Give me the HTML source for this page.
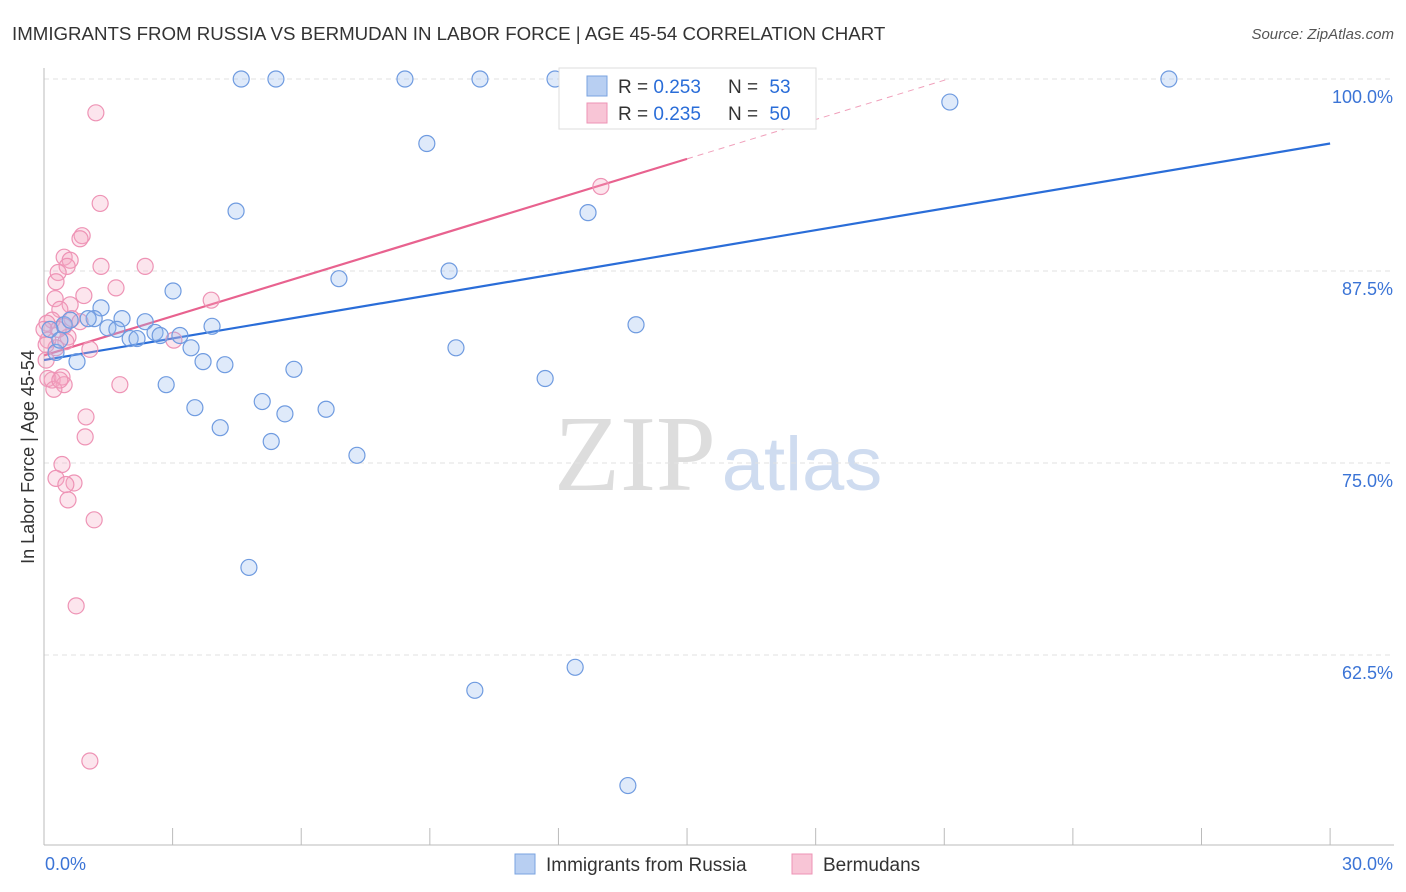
<!DOCTYPE html>
<html><head><meta charset="utf-8"><style>
body{margin:0;background:#fff;font-family:"Liberation Sans",sans-serif;}
svg{display:block}
</style></head><body>
<svg id="chart" width="1406" height="892">
<text x="12" y="40" font-size="18.7" fill="#333">IMMIGRANTS FROM RUSSIA VS BERMUDAN IN LABOR FORCE | AGE 45-54 CORRELATION CHART</text>
<text x="1394" y="39" font-size="15" fill="#555" font-style="italic" text-anchor="end">Source: ZipAtlas.com</text>
<text transform="translate(34,457) rotate(-90)" font-size="18" fill="#333" text-anchor="middle">In Labor Force | Age 45-54</text>
<g><text x="635" y="490" font-size="108" font-family="Liberation Serif,serif" fill="#ddd" text-anchor="middle">ZIP</text><text x="802" y="490" font-size="76" fill="#cfdcf0" text-anchor="middle">atlas</text></g>
<g id="grid"></g><g id="axes"></g><g id="lines"></g><g id="pts"></g>
<g>
<rect x="559" y="68" width="257" height="61" fill="#fff" stroke="#ddd"/>
<rect x="587" y="76" width="20" height="20" fill="#b8cff2" stroke="#7aa3e0"/>
<text x="618" y="93" font-size="19" fill="#333">R = <tspan fill="#2a6dd8">0.253</tspan></text>
<text x="728" y="93" font-size="19" fill="#333">N = <tspan fill="#2a6dd8" dx="6">53</tspan></text>
<rect x="587" y="103" width="20" height="20" fill="#f8c5d6" stroke="#ee93b5"/>
<text x="618" y="120" font-size="19" fill="#333">R = <tspan fill="#2a6dd8">0.235</tspan></text>
<text x="728" y="120" font-size="19" fill="#333">N = <tspan fill="#2a6dd8" dx="6">50</tspan></text>
</g>
<g>
<rect x="515" y="854" width="20" height="20" fill="#b8cff2" stroke="#7aa3e0"/>
<text x="546" y="871" font-size="19" fill="#333">Immigrants from Russia</text>
<rect x="792" y="854" width="20" height="20" fill="#f8c5d6" stroke="#ee93b5"/>
<text x="823" y="871" font-size="19" fill="#333">Bermudans</text>
</g>
</svg>
<script>
const yTicks=[100,87.5,75,62.5];
const yTickLabels=["100.0%","87.5%","75.0%","62.5%"];
const xTicks=[0,3,6,9,12,15,18,21,24,27,30];
const xLabels=["0.0%","30.0%"];
const blueX=[4.60,5.41,8.42,10.17,11.92,12.39,14.18,26.24,21.13,8.93,4.48,12.69,6.88,9.45,3.01,1.33,1.82,2.36,1.17,0.47,1.49,1.70,2.01,2.17,2.59,2.71,3.17,3.92,3.43,3.71,4.22,0.77,0.28,2.85,5.83,9.61,11.69,13.81,5.09,5.62,6.58,3.52,4.11,5.30,7.30,4.78,12.39,10.05,13.62,0.14,0.37,0.61,1.03];
const blueY=[100,100,100,100,100,100,100,100,98.5,95.8,91.4,91.3,87.0,87.5,86.2,85.1,84.4,84.2,84.4,84.0,83.8,83.7,83.1,83.1,83.5,83.3,83.3,83.9,82.5,81.6,81.4,81.6,82.2,80.1,81.1,82.5,80.5,84.0,79.0,78.2,78.5,78.6,77.3,76.4,75.5,68.2,61.7,60.2,54.0,83.7,83.0,84.3,84.4];
const pinkX=[1.21,1.31,0.89,0.84,0.47,0.61,0.54,1.33,2.36,0.33,0.28,1.68,3.90,0.93,0.26,0.61,0.37,0.19,0.07,0.65,0.47,0.56,0.51,0.09,0.28,1.07,3.03,12.99,0.19,0.09,0.42,0.47,0.23,1.77,0.98,0.96,0.42,0.28,0.70,0.51,0.56,1.17,0.75,1.07,0.05,0.33,0.84,0,0.05,0.37];
const pinkY=[97.8,91.9,89.8,89.6,88.4,88.2,87.8,87.8,87.8,87.4,86.8,86.4,85.6,85.9,85.7,85.3,85.0,84.3,84.1,84.4,83.9,83.2,82.9,83.0,82.5,82.4,83.0,93.0,80.4,80.5,80.6,80.1,79.8,80.1,78.0,76.7,74.9,74.0,73.7,73.6,72.6,71.3,65.7,55.6,82.7,83.7,84.2,83.7,81.7,80.4];
const blueFit=[81.7,95.8];
const pinkFit=[82.0,94.8];
const X=v=>44+v*42.87, Y=v=>79+(100-v)*15.36;
const NS="http://www.w3.org/2000/svg";
function mk(t,a,p){const e=document.createElementNS(NS,t);for(const k in a)e.setAttribute(k,a[k]);document.getElementById(p).appendChild(e);return e;}
yTicks.forEach((t,i)=>{
 const l=mk('line',{x1:44,x2:1394,y1:Y(t),y2:Y(t),stroke:'#e2e2e2','stroke-dasharray':'5,4'},'grid');
 
 
 const tx=mk('text',{x:1393,y:Y(t)+24,'font-size':18,fill:'#3b74d6','text-anchor':'end'},'grid');
 tx.textContent=yTickLabels[i];
 
 
});
let a=mk('line',{x1:44,x2:44,y1:68,y2:845,stroke:'#bbb'},'axes');


a=mk('line',{x1:44,x2:1394,y1:845,y2:845,stroke:'#bbb'},'axes');


xTicks.forEach(t=>{const l=mk('line',{x1:X(t),x2:X(t),y1:828,y2:845,stroke:'#bbb'},'axes');
 
 });
let t1=mk('text',{x:45,y:870,'font-size':18,fill:'#3b74d6'},'axes');t1.textContent=xLabels[0];


let t2=mk('text',{x:1393,y:870,'font-size':18,fill:'#3b74d6','text-anchor':'end'},'axes');t2.textContent=xLabels[1];


function dots(xs,ys,fill,stroke,name){xs.forEach((x,i)=>{const c=mk('circle',{cx:X(x),cy:Y(ys[i]),r:8,fill:fill,stroke:stroke,'stroke-width':1.2},'pts');
 
 });}
dots(pinkX,pinkY,'rgba(245,170,195,0.3)','#ee93b5','bermudan-point');
dots(blueX,blueY,'rgba(150,185,240,0.3)','#6f9be0','russia-point');
let L=mk('line',{x1:X(0),y1:Y(blueFit[0]),x2:X(30),y2:Y(blueFit[1]),stroke:'#2a6dd8','stroke-width':2.2},'lines');


const slope=(pinkFit[1]-pinkFit[0])/15;
L=mk('line',{x1:X(0),y1:Y(pinkFit[0]),x2:X(15),y2:Y(pinkFit[1]),stroke:'#e8628f','stroke-width':2.2},'lines');


const xe=(100-pinkFit[0])/slope;
L=mk('line',{x1:X(15),y1:Y(pinkFit[1]),x2:X(xe),y2:Y(100),stroke:'#f0a0bb','stroke-width':1,'stroke-dasharray':'6,5'},'lines');


</script>
</body></html>
